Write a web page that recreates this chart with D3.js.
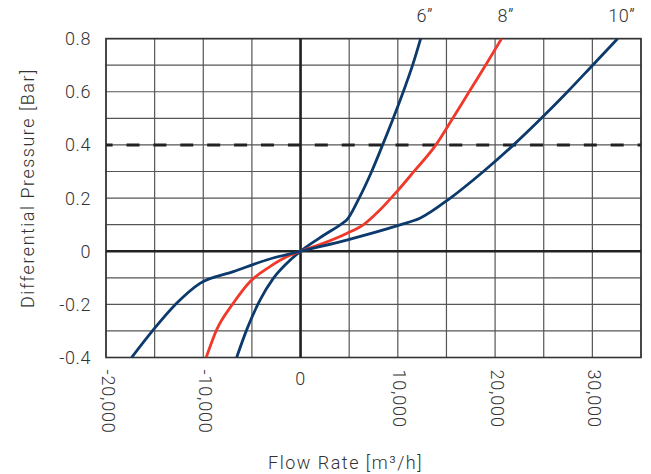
<!DOCTYPE html>
<html>
<head>
<meta charset="utf-8">
<script src="https://cdnjs.cloudflare.com/ajax/libs/d3/7.8.5/d3.min.js"></script>
<style>
  body { margin: 0; background: #fff; }
  svg text { font-family: Roboto, "Liberation Sans", Arial, sans-serif; font-weight: 300; fill: #333; }
</style>
</head>
<body>
<div id="chart"></div>
<script>
// flow rate [m3/h] vs differential pressure [bar]
var sizes = ["6\u201D", "8\u201D", "10\u201D"];
var colors = ["#0d3a6c", "#f0392b", "#0d3a6c"];

var flow6 = [-6570, -5540, -4170, -2800, -1430, 0, 2340, 4300, 4740, 5930, 7310, 8440, 9530, 10560, 11520, 12350];
var dp6   = [-0.4, -0.296, -0.184, -0.102, -0.046, 0, 0.059, 0.105, 0.117, 0.193, 0.3, 0.4, 0.5, 0.6, 0.7, 0.8];

var flow8 = [-9700, -8630, -6920, -5200, -3150, -1430, 0, 2340, 4740, 6450, 8160, 10040, 11660, 13920, 15650, 17330, 19020, 20670];
var dp8   = [-0.4, -0.296, -0.196, -0.115, -0.058, -0.021, 0, 0.03, 0.067, 0.099, 0.155, 0.23, 0.3, 0.4, 0.5, 0.6, 0.7, 0.8];

var flow10 = [-17370, -15140, -12740, -10340, -6920, -3490, 0, 4740, 10220, 12270, 15400, 18800, 21900, 24750, 27450, 30030, 32600];
var dp10   = [-0.4, -0.296, -0.196, -0.121, -0.077, -0.033, 0, 0.042, 0.099, 0.124, 0.2, 0.3, 0.4, 0.5, 0.6, 0.7, 0.8];

var xTicks = [-20000, -10000, 0, 10000, 20000, 30000];
var yTicks = [-0.4, -0.2, 0, 0.2, 0.4, 0.6, 0.8];
var limitDp = 0.4;

var series = [
    { name: sizes[0], color: colors[0], values: d3.zip(flow6, dp6) },
    { name: sizes[1], color: colors[1], values: d3.zip(flow8, dp8) },
    { name: sizes[2], color: colors[2], values: d3.zip(flow10, dp10) }
];

var margin = { top: 38.6, right: 10, bottom: 116.5, left: 106 };
var width = 651 - margin.left - margin.right;
var height = 474 - margin.top - margin.bottom;

var svg = d3.select("#chart").append("svg")
    .attr("width", 651)
    .attr("height", 474)
    .append("g")
    .attr("transform", "translate(" + margin.left + "," + margin.top + ")");

var x = d3.scaleLinear().domain([-20000, 35000]).range([0, width]);
var y = d3.scaleLinear().domain([-0.4, 0.8]).range([height, 0]);

// hyphen instead of unicode minus, like the original
function dash(s) { return s.replace("\u2212", "-"); }

// grid
svg.append("g").selectAll("line")
    .data(d3.range(-20000, 35001, 5000))
    .enter().append("line")
    .attr("x1", function(d) { return x(d); })
    .attr("x2", function(d) { return x(d); })
    .attr("y1", 0).attr("y2", height)
    .attr("stroke", "#555").attr("stroke-width", 1.2);

svg.append("g").selectAll("line")
    .data(d3.range(-4, 9).map(function(i) { return i / 10; }))
    .enter().append("line")
    .attr("y1", function(d) { return y(d); })
    .attr("y2", function(d) { return y(d); })
    .attr("x1", 0).attr("x2", width)
    .attr("stroke", "#555").attr("stroke-width", 1.2);

svg.append("rect")
    .attr("width", width).attr("height", height)
    .attr("fill", "none").attr("stroke", "#333").attr("stroke-width", 1.6);

// zero axes
svg.append("line")
    .attr("x1", 0).attr("x2", width)
    .attr("y1", y(0)).attr("y2", y(0))
    .attr("stroke", "#222").attr("stroke-width", 2.6);
svg.append("line")
    .attr("x1", x(0)).attr("x2", x(0))
    .attr("y1", 0).attr("y2", height)
    .attr("stroke", "#222").attr("stroke-width", 2.6);

// 0.4 bar line
svg.append("line")
    .attr("x1", 0).attr("x2", width)
    .attr("y1", y(limitDp)).attr("y2", y(limitDp))
    .attr("stroke", "#222").attr("stroke-width", 3)
    .attr("stroke-dasharray", "13,13.9")
    .attr("stroke-dashoffset", 6.4);

svg.append("clipPath").attr("id", "clip")
    .append("rect").attr("width", width).attr("height", height);

var line = d3.line()
    .x(function(d) { return x(d[0]); })
    .y(function(d) { return y(d[1]); })
    .curve(d3.curveMonotoneX);

svg.append("g").attr("clip-path", "url(#clip)")
    .selectAll("path")
    .data(series)
    .enter().append("path")
    .attr("d", function(d) { return line(d.values); })
    .attr("fill", "none")
    .attr("stroke", function(d) { return d.color; })
    .attr("stroke-width", 2.8)
    .attr("stroke-linejoin", "round");

// size labels above the curve ends
svg.selectAll(".size-label")
    .data(series)
    .enter().append("text")
    .attr("class", "size-label")
    .attr("x", function(d) { return x(d.values[d.values.length - 1][0]) + 4; })
    .attr("y", -17)
    .attr("text-anchor", "middle")
    .style("font-size", "18px")
    .style("letter-spacing", "0.5px")
    .text(function(d) { return d.name; });

// y tick labels
svg.selectAll(".ytick")
    .data(yTicks)
    .enter().append("text")
    .attr("class", "ytick")
    .attr("x", -15)
    .attr("y", function(d) { return y(d); })
    .attr("dy", "0.36em")
    .attr("text-anchor", "end")
    .style("font-size", "18px")
    .style("letter-spacing", "0.6px")
    .text(function(d) { return d === 0 ? "0" : dash(d3.format(".1f")(d)); });

// x tick labels, rotated except zero
svg.selectAll(".xtick")
    .data(xTicks)
    .enter().append("text")
    .attr("class", "xtick")
    .attr("transform", function(d) {
        return d === 0
            ? "translate(" + x(d) + "," + (height + 21.5) + ")"
            : "translate(" + (x(d) + 2) + "," + (height + 12) + ") rotate(90)";
    })
    .attr("dy", "0.36em")
    .attr("text-anchor", function(d) { return d === 0 ? "middle" : "start"; })
    .style("font-size", "18px")
    .style("letter-spacing", "0.8px")
    .text(function(d) { return d === 0 ? "0" : dash(d3.format(",")(d)); });

// axis titles
svg.append("text")
    .attr("x", x(0) + 45)
    .attr("y", 430)
    .attr("text-anchor", "middle")
    .style("font-size", "18px")
    .style("letter-spacing", "1.5px")
    .text("Flow Rate [m\u00B3/h]");

svg.append("text")
    .attr("transform", "translate(" + (-72) + "," + (y(0.2) - 10) + ") rotate(-90)")
    .attr("text-anchor", "middle")
    .style("font-size", "18px")
    .style("letter-spacing", "1.5px")
    .text("Differential Pressure [Bar]");
</script>
</body>
</html>
